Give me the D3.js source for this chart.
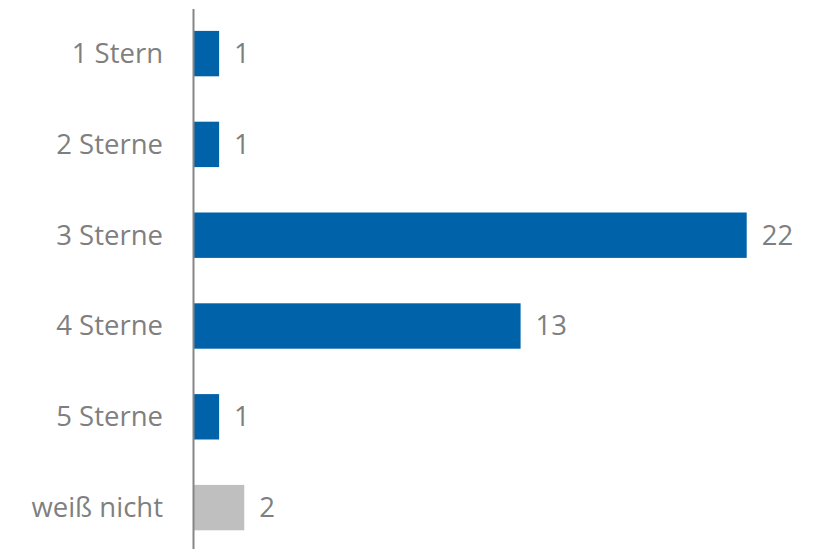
<!DOCTYPE html>
<html><head><meta charset="utf-8">
<script src="https://cdn.jsdelivr.net/npm/d3@7"></script>
<style>html,body{margin:0;padding:0;background:#fff;}</style>
</head><body>
<svg id="c" width="820" height="549"></svg>
<script>
const categories = ["1 Stern", "2 Sterne", "3 Sterne", "4 Sterne", "5 Sterne", "weiß nicht"];
const values = [1, 1, 22, 13, 1, 2];
const barColors = ["#0063AA", "#0063AA", "#0063AA", "#0063AA", "#0063AA", "#BFBFBF"];

const svg = d3.select("#c");
const x0 = 194;
const x = d3.scaleLinear().domain([0, 22]).range([x0, 746.7]);
const y = d3.scaleBand().domain(categories).range([8.2, 553]).paddingInner(0.5).paddingOuter(0.25);

const font = "'Open Sans', sans-serif";
const fs = 27.5;
const tc = "#7F7F7F";

svg.selectAll("rect.bar").data(categories).enter().append("rect")
  .attr("class","bar")
  .attr("x", x(0))
  .attr("y", d => y(d))
  .attr("width", (d,i) => x(values[i]) - x(0))
  .attr("height", y.bandwidth())
  .attr("fill", (d,i) => barColors[i]);

// axis line
svg.append("line").attr("x1", 193.5).attr("x2", 193.5).attr("y1", 9).attr("y2", 549)
  .attr("stroke", "#868686").attr("stroke-width", 2);

svg.selectAll("text.cat").data(categories).enter().append("text")
  .attr("class","cat")
  .attr("x", 163)
  .attr("y", d => y(d) + y.bandwidth()/2)
  .attr("dy", "0.34em")
  .attr("text-anchor", "end")
  .attr("font-family", font).attr("font-size", fs).attr("fill", tc)
  .text(d => d);

svg.selectAll("text.val").data(categories).enter().append("text")
  .attr("class","val")
  .attr("x", (d,i) => x(values[i]) + 15)
  .attr("y", d => y(d) + y.bandwidth()/2)
  .attr("dy", "0.34em")
  .attr("font-family", font).attr("font-size", fs).attr("fill", tc)
  .text((d,i) => values[i]);
</script>
</body></html>
